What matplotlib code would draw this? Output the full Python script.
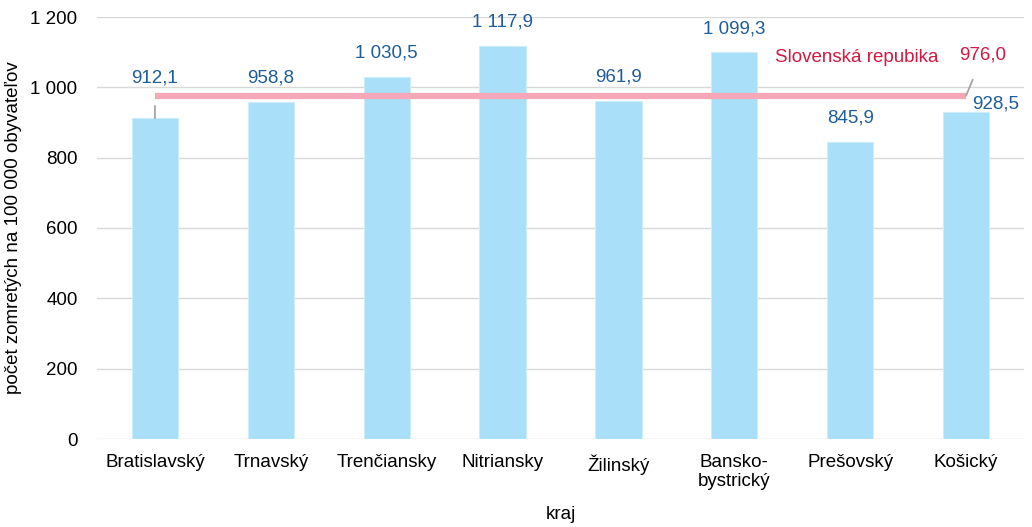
import numpy as np
import matplotlib.pyplot as plt

plt.rcParams["font.family"] = ["Liberation Sans", "DejaVu Sans"]

# data
regions = ["Bratislavský", "Trnavský", "Trenčiansky", "Nitriansky", "Žilinský",
           "Bansko-\nbystrický", "Prešovský", "Košický"]
deaths = [912.1, 958.8, 1030.5, 1117.9, 961.9, 1099.3, 845.9, 928.5]
sr_value = 976.0
sr_label = "Slovenská repubika"


def fmt(v):
    s = f"{v:,.1f}"
    return s.replace(",", " ").replace(".", ",")


fs = 13.5
fig = plt.figure(figsize=(10.32, 5.27), dpi=100)
ax = fig.add_axes([97 / 1032, 1 - 439 / 527, 927 / 1032, 422 / 527])

x = np.arange(len(regions))
ax.bar(x, deaths, width=0.4, color="#A9DFF9", edgecolor="#CDEDFB", linewidth=0.8, zorder=2)
ax.plot([x[0], x[-1]], [sr_value, sr_value], color="#F7A8B8", linewidth=4.5,
        solid_capstyle="butt", zorder=3)

ax.set_xlim(-0.5, len(regions) - 0.5)
ax.set_ylim(0, 1200)
ax.set_yticks(np.arange(0, 1201, 200))
ax.yaxis.set_major_formatter(plt.FuncFormatter(lambda v, p: fmt(v)[:-2]))
ax.grid(axis="y", color="#D9D9D9", linewidth=1, zorder=0)
for s in ax.spines.values():
    s.set_visible(False)
ax.tick_params(axis="both", length=0, labelsize=fs, colors="#000000")
ax.tick_params(axis="y", pad=14)
ax.tick_params(axis="x", pad=11)
ax.set_xticks(x)
ax.set_xticklabels(regions, linespacing=1.15)

ax.set_ylabel("počet zomretých na 100 000 obyvateľov", fontsize=fs, labelpad=6)
ax.set_xlabel("kraj", fontsize=fs, labelpad=11)

blue = "#1F5C99"
red = "#D6173F"
for i, v in enumerate(deaths):
    if i == 0:
        ax.annotate(fmt(v), xy=(i, v), xytext=(0, 29), textcoords="offset points",
                    ha="center", va="center", fontsize=fs, color=blue,
                    arrowprops=dict(arrowstyle="-", color="#A6A6A6", lw=1.3,
                                    shrinkA=12, shrinkB=0))
    elif i == len(deaths) - 1:
        ax.annotate(fmt(v), xy=(i, v), xytext=(21, 6), textcoords="offset points",
                    ha="center", va="center", fontsize=fs, color=blue)
    else:
        ax.annotate(fmt(v), xy=(i, v), xytext=(0, 17), textcoords="offset points",
                    ha="center", va="center", fontsize=fs, color=blue)

ax.annotate(fmt(sr_value), xy=(x[-1], sr_value), xytext=(12, 29), textcoords="offset points",
            ha="center", va="center", fontsize=fs, color=red,
            arrowprops=dict(arrowstyle="-", color="#A6A6A6", lw=1.3, shrinkA=10, shrinkB=0))
ax.text(6.06, 1085, sr_label, ha="center", va="center", fontsize=fs, color=red)

fig.savefig("out.png", dpi=100)
